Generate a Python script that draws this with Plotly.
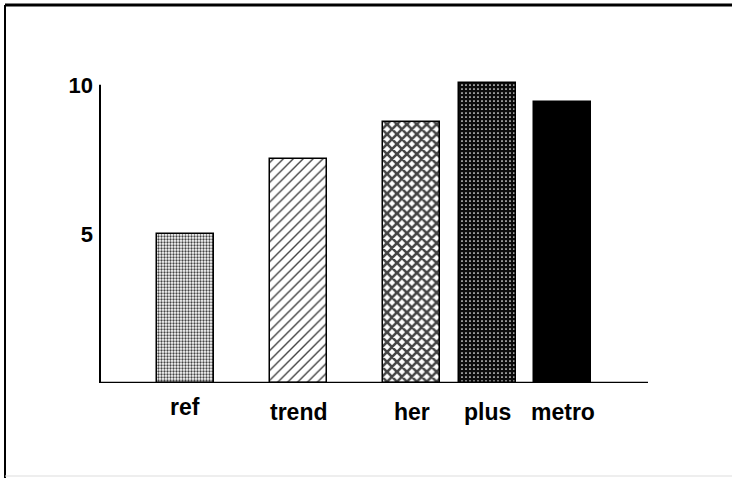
import plotly.graph_objects as go

# Values shown in the bar chart
categories = ["ref", "trend", "her", "plus", "metro"]
values = [5.0, 7.5, 8.76, 10.05, 9.41]
y_ticks = [5, 10]

# Horizontal slot of each bar (wider gaps between the first three)
slots = [0, 1.5, 3, 4, 5]

# Fill pattern per bar
pat_shape = [".", "/", "x", ".", ""]
pat_fg = ["black", "black", "black", "#5a5a5a", "black"]
pat_bg = ["white", "white", "white", "#0c0c0c", "black"]
pat_size = [3, 7, 7, 4, 8]
pat_solid = [0.45, 0.2, 0.6, 0.15, 0.5]
bar_color = ["white", "white", "white", "#0c0c0c", "black"]

fig = go.Figure()
fig.add_trace(go.Bar(
    x=slots,
    y=values,
    width=0.755,
    marker=dict(
        color=bar_color,
        line=dict(color="black", width=1.5),
        pattern=dict(shape=pat_shape, fgcolor=pat_fg, bgcolor=pat_bg,
                     size=pat_size, solidity=pat_solid, fillmode="overlay",
                     fgopacity=1),
    ),
    hoverinfo="skip",
))

label_shift = [5, 0, 0, 0, 0]
for xs, name, dy in zip(slots, categories, label_shift):
    fig.add_annotation(x=xs, y=0, text=name, showarrow=False,
                       yanchor="top", yshift=-14 + dy,
                       font=dict(family="Liberation Sans, Arial", size=23,
                                 color="black", weight="bold"))

L, R, T, B = 100, 84, 55, 95
W, H = 732, 478
pw, ph = W - L - R, H - T - B

def px(x):
    return (x - L) / pw

def py(y):
    return (H - B - y) / ph

shapes = [
    # baseline and value axis
    dict(type="line", xref="paper", yref="y", x0=0, x1=1, y0=0, y1=0,
         line=dict(color="black", width=2.5)),
    dict(type="line", xref="paper", yref="y", x0=0, x1=0, y0=0, y1=10,
         line=dict(color="black", width=2)),
    # outer frame: top and left edges, faint bottom edge
    dict(type="line", xref="paper", yref="paper", x0=px(5), x1=px(732),
         y0=py(5), y1=py(5), line=dict(color="black", width=3)),
    dict(type="line", xref="paper", yref="paper", x0=px(5), x1=px(5),
         y0=py(5), y1=py(478), line=dict(color="black", width=2)),
    dict(type="line", xref="paper", yref="paper", x0=px(5), x1=px(732),
         y0=py(476), y1=py(476), line=dict(color="#dddddd", width=1)),
]

fig.update_layout(
    width=W, height=H,
    margin=dict(l=L, r=R, t=T, b=B),
    paper_bgcolor="white", plot_bgcolor="white",
    showlegend=False,
    bargap=0,
    shapes=shapes,
    xaxis=dict(range=[-1.132, 6.126], showgrid=False, zeroline=False,
               showline=False, showticklabels=False, ticks=""),
    yaxis=dict(range=[0, 11], showgrid=False, zeroline=False, showline=False,
               tickvals=y_ticks, ticks="", ticklabelstandoff=6,
               tickfont=dict(family="Liberation Sans, Arial", size=22,
                             color="black", weight="bold")),
)

fig.write_html("out.html")
